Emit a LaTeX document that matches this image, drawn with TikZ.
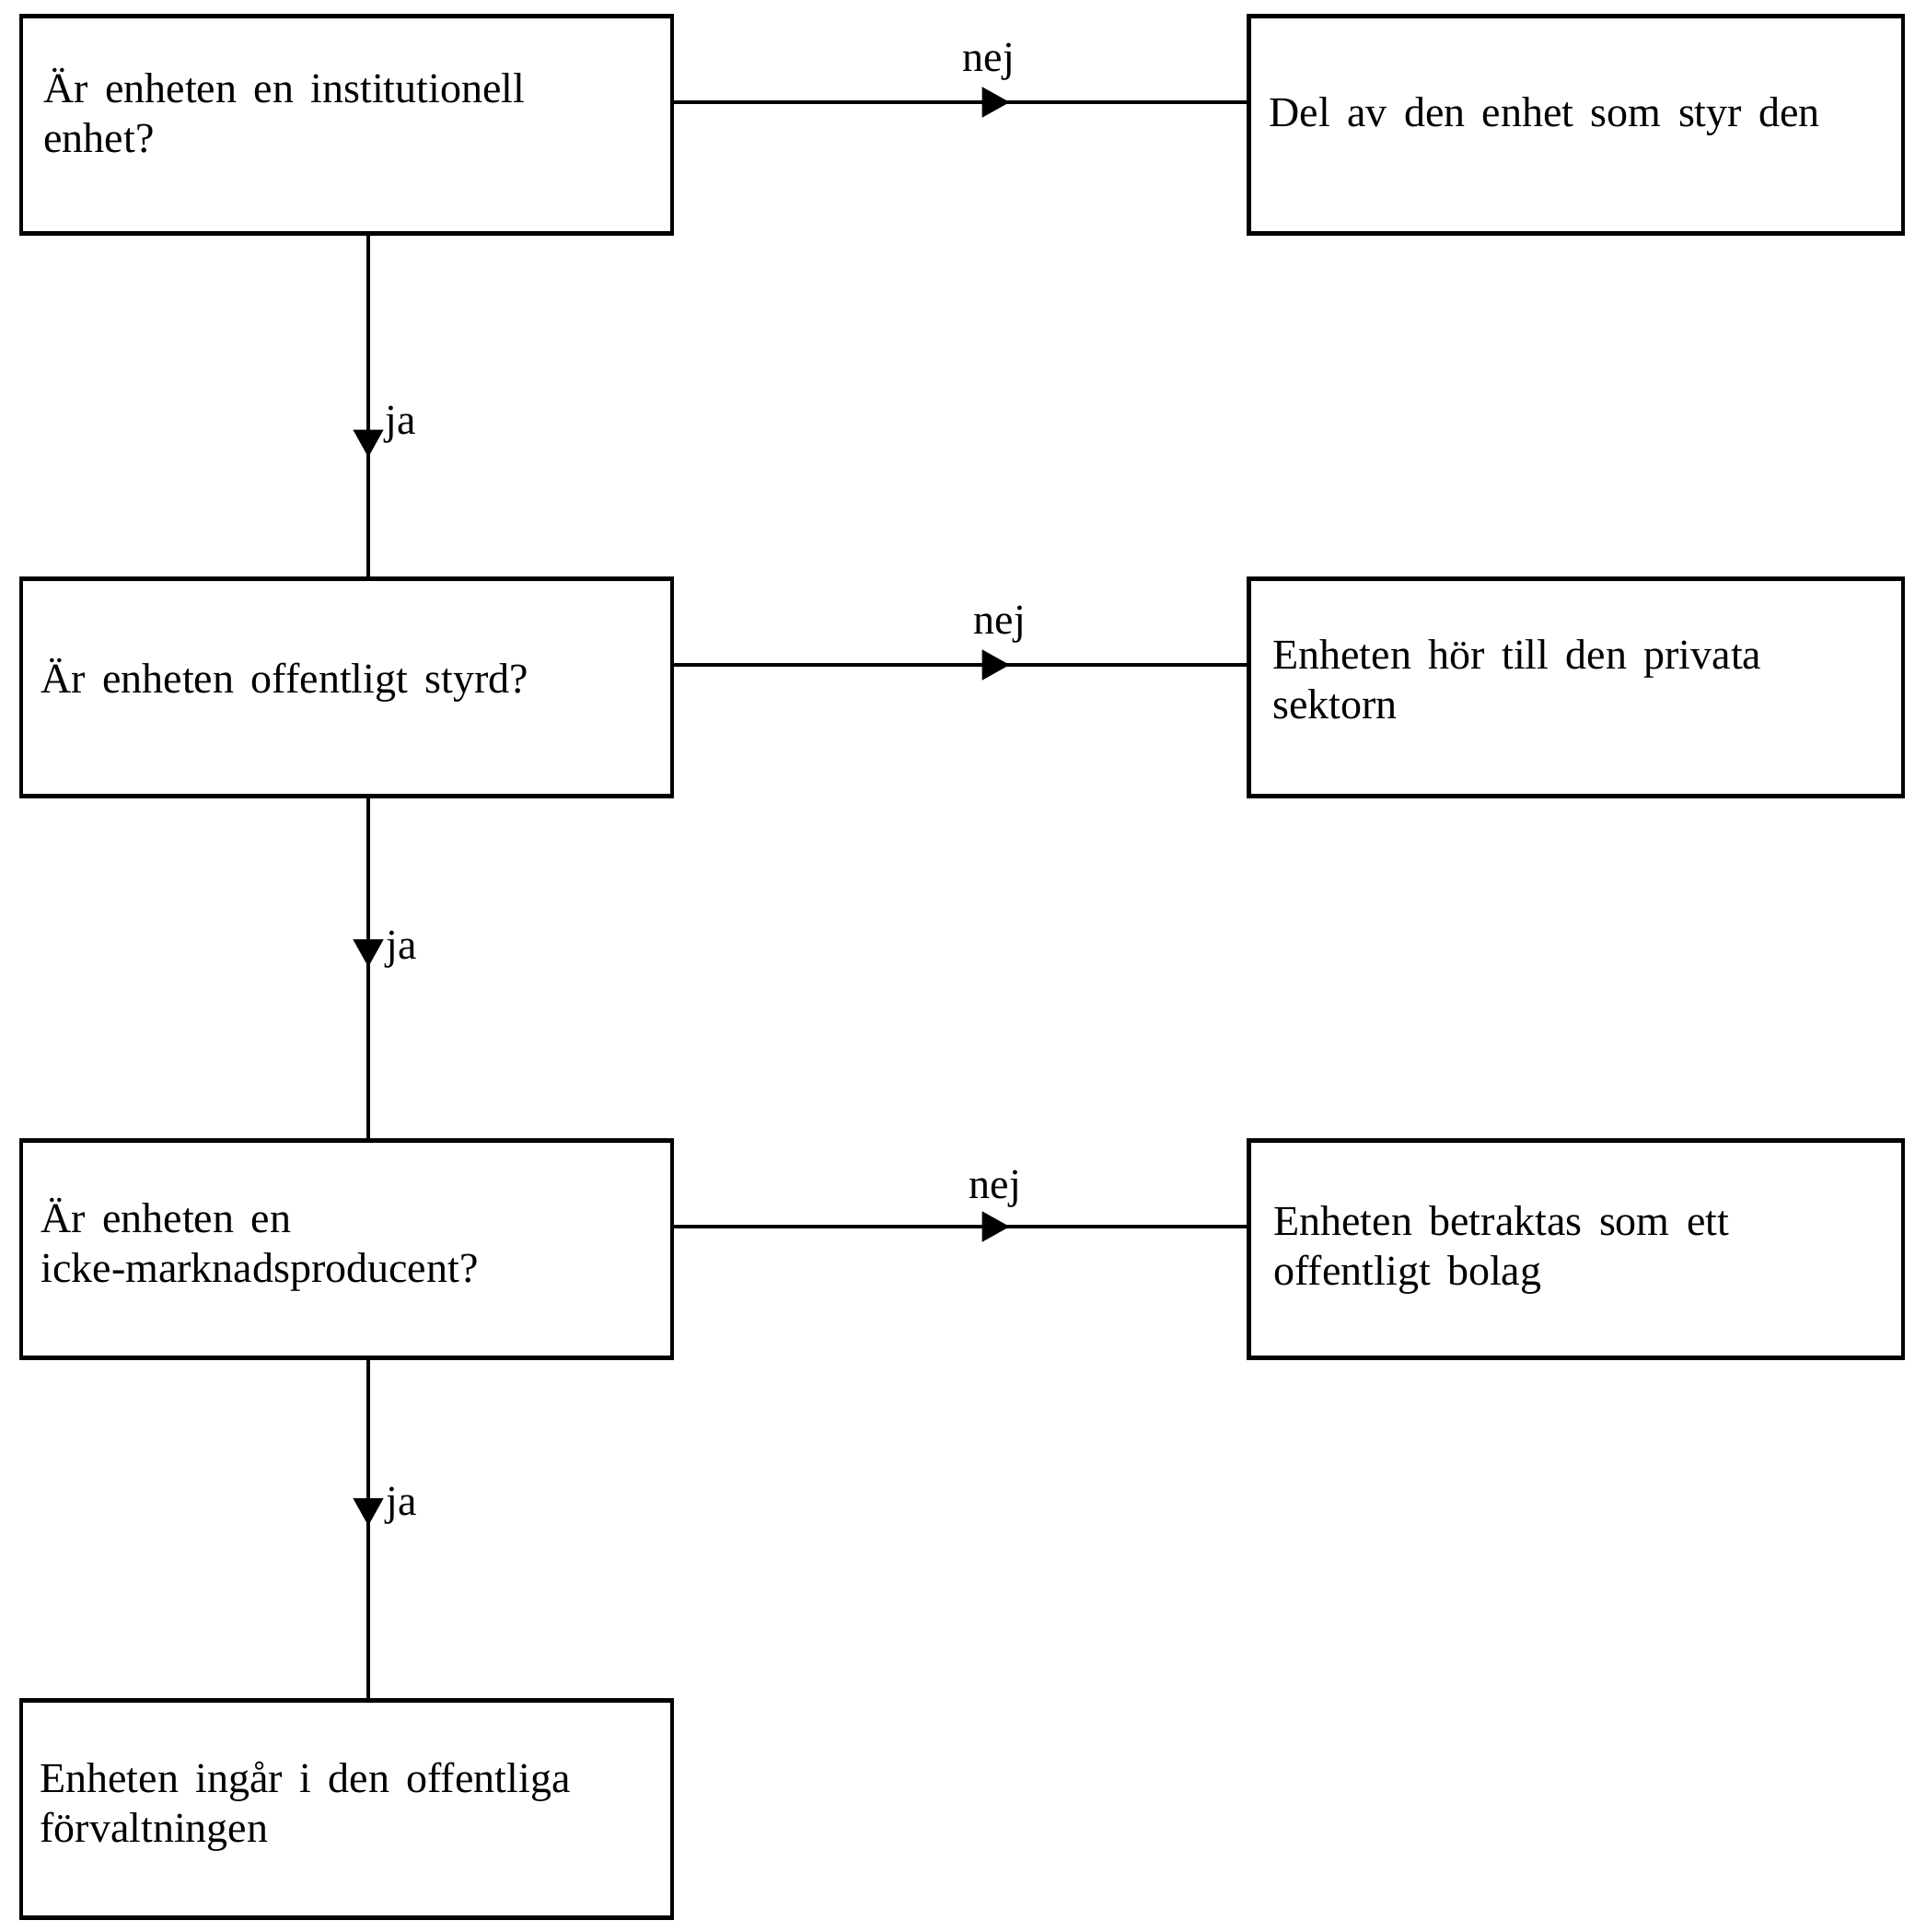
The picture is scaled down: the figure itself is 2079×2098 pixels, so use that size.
\documentclass[tikz,border=0pt]{standalone}
\usepackage{fontspec}
\setmainfont{Liberation Serif}
\usetikzlibrary{arrows.meta,decorations.markings}
\newcommand{\bigtxt}{\fontsize{23pt}{26.75pt}\selectfont\spaceskip=9.2pt plus 2pt minus 1pt\relax}
\begin{document}
\begin{tikzpicture}[x=0.5pt,y=-0.5pt,
  box/.style={draw,line width=2.4pt,minimum width=353.5pt,minimum height=118pt,inner sep=0pt},
  rbox/.style={box,minimum width=355.25pt},
  txt/.style={anchor=base west,align=left,inner sep=0pt,font=\bigtxt},
  lbl/.style={inner sep=0pt,font=\bigtxt},
  conn/.style={line width=2.4pt},
  midarrow/.style={postaction={decorate},decoration={markings,mark=at position #1 with {\arrow{Triangle[length=15pt,width=16pt]}}}}
]
\useasboundingbox (0,0) rectangle (2079,2098);
\fill[white] (0,0) rectangle (2079,2098);

% boxes
\node[box]  (b1) at (376.5,135.5) {};
\node[rbox] (b2) at (1711.75,135.5) {};
\node[box]  (b3) at (376.5,746.5) {};
\node[rbox] (b4) at (1711.75,746.5) {};
\node[box]  (b5) at (376.5,1356.5) {};
\node[rbox] (b6) at (1711.75,1356.5) {};
\node[box]  (b7) at (376.5,1964.5) {};

% texts (base anchor = baseline of the last line)
\node[txt] (t1) at (47,165) {Är enheten en institutionell\\enhet?};
\node[txt] (t2) at (1378,138) {Del av den enhet som styr den};
\node[txt] (t3) at (44,752) {Är enheten offentligt styrd?};
\node[txt] (t4) at (1382,780) {Enheten hör till den privata\\sektorn};
\node[txt] (t5) at (44,1392) {Är enheten en\\icke-marknadsproducent?};
\node[txt] (t6) at (1383,1395) {Enheten betraktas som ett\\offentligt bolag};
\node[txt] (t7) at (43,2000) {Enheten ingår i den offentliga\\förvaltningen};

% horizontal connectors (nej)
\draw[conn,midarrow=0.586] ([yshift=12.25pt]b1.east) -- ([yshift=12.25pt]b2.west);
\draw[conn,midarrow=0.586] ([yshift=12.25pt]b3.east) -- ([yshift=12.25pt]b4.west);
\draw[conn,midarrow=0.586] ([yshift=12.25pt]b5.east) -- ([yshift=12.25pt]b6.west);

% vertical connectors (ja)
\draw[conn,midarrow=0.65]  ([xshift=11.75pt]b1.south) -- ([xshift=11.75pt]b3.north);
\draw[conn,midarrow=0.496] ([xshift=11.75pt]b3.south) -- ([xshift=11.75pt]b5.north);
\draw[conn,midarrow=0.49]  ([xshift=11.75pt]b5.south) -- ([xshift=11.75pt]b7.north);

% labels
\node[lbl] (n1) at (1074,67) {nej};
\node[lbl] (n2) at (1086,678) {nej};
\node[lbl] (n3) at (1081,1291) {nej};
\node[lbl] (j1) at (435,461) {ja};
\node[lbl] (j2) at (436,1031) {ja};
\node[lbl] (j3) at (436,1635) {ja};
\end{tikzpicture}
\end{document}
